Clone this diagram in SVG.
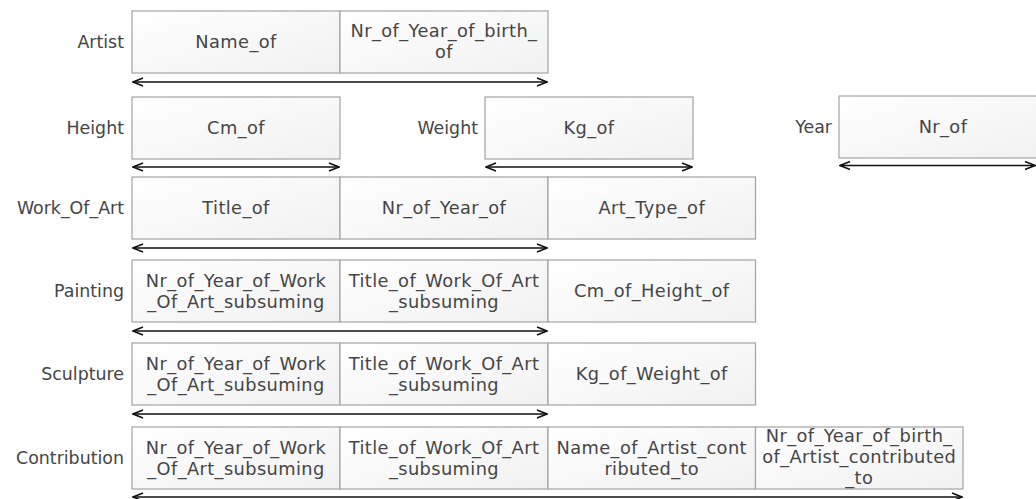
<svg xmlns="http://www.w3.org/2000/svg" width="1036" height="499" viewBox="0 0 1036 499">
  <defs>
    <linearGradient id="cellFill" x1="0" y1="0" x2="1" y2="1">
      <stop offset="0" stop-color="#ffffff"/>
      <stop offset="1" stop-color="#f1f1f1"/>
    </linearGradient>
    <marker id="head" viewBox="0 0 12 10" refX="11" refY="5" markerWidth="12" markerHeight="10" markerUnits="userSpaceOnUse" orient="auto-start-reverse">
      <path d="M1,1 L11,5 L1,9" fill="none" stroke="#111" stroke-width="1.5"/>
    </marker>
  </defs>
  <style>
    .cell { fill: url(#cellFill); stroke: #a3a3a3; stroke-width: 1.2; }
    text { font-family: "DejaVu Sans", Verdana, sans-serif; font-size: 17.4px; fill: #454545; }
    .name { text-anchor: end; }
    .val { text-anchor: middle; font-size: 17.8px; letter-spacing: 0.4px; }
    .span { fill: none; stroke: #111; stroke-width: 1.6; marker-start: url(#head); marker-end: url(#head); }
  </style>

  <rect width="1036" height="499" fill="#fff"/>

  <!-- Artist -->
  <g id="artist">
    <text class="name" x="124" y="48">Artist</text>
    <rect class="cell" x="132" y="11" width="208" height="62"/>
    <rect class="cell" x="340" y="11" width="208" height="62"/>
    <text class="val" x="236" y="48">Name_of</text>
    <text class="val" x="444" y="37">Nr_of_Year_of_birth_</text>
    <text class="val" x="444" y="58">of</text>
  </g>

  <!-- Height -->
  <g id="height">
    <text class="name" x="124" y="134">Height</text>
    <rect class="cell" x="132" y="97" width="208" height="62"/>
    <text class="val" x="236" y="134">Cm_of</text>
  </g>

  <!-- Weight -->
  <g id="weight">
    <text class="name" x="478" y="134">Weight</text>
    <rect class="cell" x="485" y="97" width="208" height="62"/>
    <text class="val" x="589" y="134">Kg_of</text>
  </g>

  <!-- Year -->
  <g id="year">
    <text class="name" x="832" y="133">Year</text>
    <rect class="cell" x="839" y="96" width="208" height="62"/>
    <text class="val" x="943" y="133">Nr_of</text>
  </g>

  <!-- Work_Of_Art -->
  <g id="work_of_art">
    <text class="name" x="124" y="214">Work_Of_Art</text>
    <rect class="cell" x="132" y="177" width="208" height="62"/>
    <rect class="cell" x="340" y="177" width="208" height="62"/>
    <rect class="cell" x="548" y="177" width="207.5" height="62"/>
    <text class="val" x="236" y="214">Title_of</text>
    <text class="val" x="444" y="214">Nr_of_Year_of</text>
    <text class="val" x="651.75" y="214">Art_Type_of</text>
  </g>

  <!-- Painting -->
  <g id="painting">
    <text class="name" x="124" y="297">Painting</text>
    <rect class="cell" x="132" y="260" width="208" height="62"/>
    <rect class="cell" x="340" y="260" width="208" height="62"/>
    <rect class="cell" x="548" y="260" width="207.5" height="62"/>
    <text class="val" x="236" y="287">Nr_of_Year_of_Work</text>
    <text class="val" x="236" y="308">_Of_Art_subsuming</text>
    <text class="val" x="444" y="287">Title_of_Work_Of_Art</text>
    <text class="val" x="444" y="308">_subsuming</text>
    <text class="val" x="651.75" y="297">Cm_of_Height_of</text>
  </g>

  <!-- Sculpture -->
  <g id="sculpture">
    <text class="name" x="124" y="380">Sculpture</text>
    <rect class="cell" x="132" y="343" width="208" height="62"/>
    <rect class="cell" x="340" y="343" width="208" height="62"/>
    <rect class="cell" x="548" y="343" width="207.5" height="62"/>
    <text class="val" x="236" y="370">Nr_of_Year_of_Work</text>
    <text class="val" x="236" y="391">_Of_Art_subsuming</text>
    <text class="val" x="444" y="370">Title_of_Work_Of_Art</text>
    <text class="val" x="444" y="391">_subsuming</text>
    <text class="val" x="651.75" y="380">Kg_of_Weight_of</text>
  </g>

  <!-- Contribution -->
  <g id="contribution">
    <text class="name" x="124" y="464">Contribution</text>
    <rect class="cell" x="132" y="427" width="208" height="62"/>
    <rect class="cell" x="340" y="427" width="208" height="62"/>
    <rect class="cell" x="548" y="427" width="207.5" height="62"/>
    <rect class="cell" x="755.5" y="427" width="207.5" height="62"/>
    <text class="val" x="236" y="454">Nr_of_Year_of_Work</text>
    <text class="val" x="236" y="475">_Of_Art_subsuming</text>
    <text class="val" x="444" y="454">Title_of_Work_Of_Art</text>
    <text class="val" x="444" y="475">_subsuming</text>
    <text class="val" x="651.75" y="454">Name_of_Artist_cont</text>
    <text class="val" x="651.75" y="475">ributed_to</text>
    <text class="val" x="859.25" y="442">Nr_of_Year_of_birth_</text>
    <text class="val" x="859.25" y="463">of_Artist_contributed</text>
    <text class="val" x="859.25" y="484">_to</text>
  </g>

  <!-- identifier spans under each fact type -->
  <g id="connectors">
    <line class="span" x1="133" y1="82" x2="547" y2="82"/>
    <line class="span" x1="133" y1="167" x2="339" y2="167"/>
    <line class="span" x1="486" y1="167" x2="692" y2="167"/>
    <line class="span" x1="840" y1="165.5" x2="1035" y2="165.5"/>
    <line class="span" x1="133" y1="248" x2="547" y2="248"/>
    <line class="span" x1="133" y1="331" x2="547" y2="331"/>
    <line class="span" x1="133" y1="414" x2="547" y2="414"/>
    <line class="span" x1="133" y1="497" x2="962" y2="497"/>
  </g>
</svg>
